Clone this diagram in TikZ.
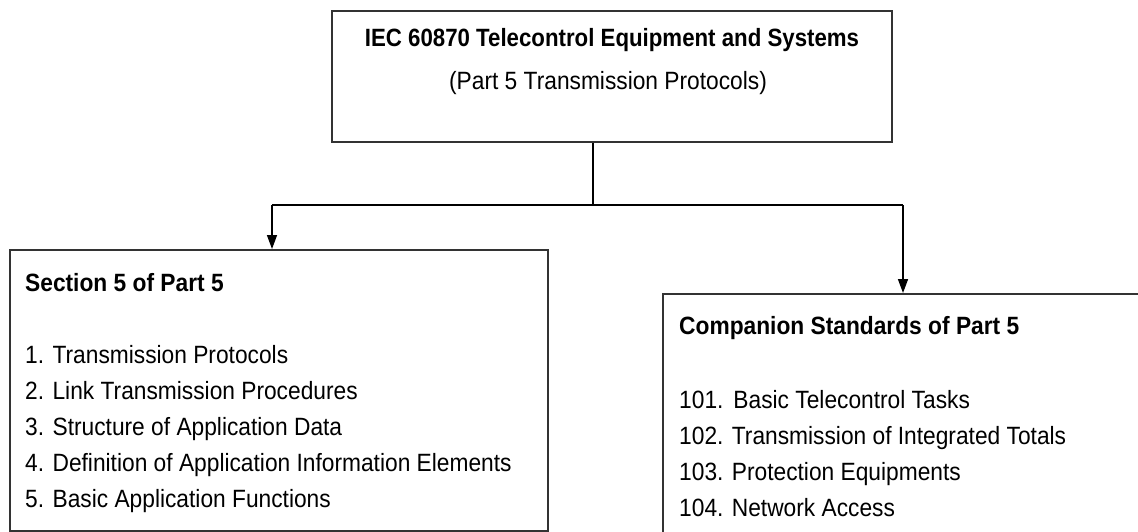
\documentclass[tikz,border=0pt]{standalone}
\usepackage{fontspec}
\setmainfont[FakeStretch=0.91]{Liberation Sans}
\newfontfamily\titlefont[FakeStretch=0.89]{Liberation Sans}
\usetikzlibrary{arrows.meta}
\begin{document}
\begin{tikzpicture}[x=1pt,y=-1pt,
  box/.style={draw=black!80,line width=1.6pt,rectangle,inner sep=0pt,anchor=north west},
  conn/.style={line width=1.5pt,black},
  arr/.style={conn,-{Triangle[length=14pt,width=10pt]}},
  txt/.style={anchor=base west,inner sep=0pt,font=\fontsize{25}{30}\selectfont},
  ttl/.style={anchor=base,inner sep=0pt,font=\fontsize{25}{30}\selectfont},
  ]
\useasboundingbox (0,0) rectangle (1138,531);
\fill[white] (0,0) rectangle (1138,531);
\clip (0,0) rectangle (1138,531);
% boxes
\node[box,minimum width=560pt,minimum height=131pt] (top) at (331,10) {};
\node[box,minimum width=538pt,minimum height=281pt] (left) at (9,249) {};
\node[box,minimum width=500pt,minimum height=260pt] (right) at (662,293) {};
% top text
\node[ttl,font=\fontsize{25}{30}\titlefont\bfseries] (t1) at (612,46) {IEC 60870 Telecontrol Equipment and Systems};
\node[ttl] (t2) at (608,89) {(Part 5 Transmission Protocols)};
% connectors
\coordinate (j) at (593,205);
\coordinate (jl) at (272,205);
\coordinate (jr) at (903,205);
\draw[conn] (top.south -| j) -- (j);
\draw[conn] (jl) -- (jr);
\draw[arr] (jl) -- (jl |- left.north);
\draw[arr] (jr) -- (jr |- right.north);
% left text
\node[txt,font=\fontsize{25}{30}\selectfont\bfseries] (lh) at (25,291) {Section 5 of Part 5};
\node[txt] (l1) at (25,363) {1. Transmission Protocols};
\node[txt] (l2) at (25,399) {2. Link Transmission Procedures};
\node[txt] (l3) at (25,435) {3. Structure of Application Data};
\node[txt] (l4) at (25,471) {4. Definition of Application Information Elements};
\node[txt] (l5) at (25,507) {5. Basic Application Functions};
% right text
\node[txt,font=\fontsize{25}{30}\selectfont\bfseries] (rh) at (679,334) {Companion Standards of Part 5};
\node[txt] (r1) at (679,408) {101.\hspace{10pt}Basic Telecontrol Tasks};
\node[txt] (r2) at (679,444) {102. Transmission of Integrated Totals};
\node[txt] (r3) at (679,480) {103. Protection Equipments};
\node[txt] (r4) at (679,516) {104. Network Access};
\end{tikzpicture}
\end{document}
